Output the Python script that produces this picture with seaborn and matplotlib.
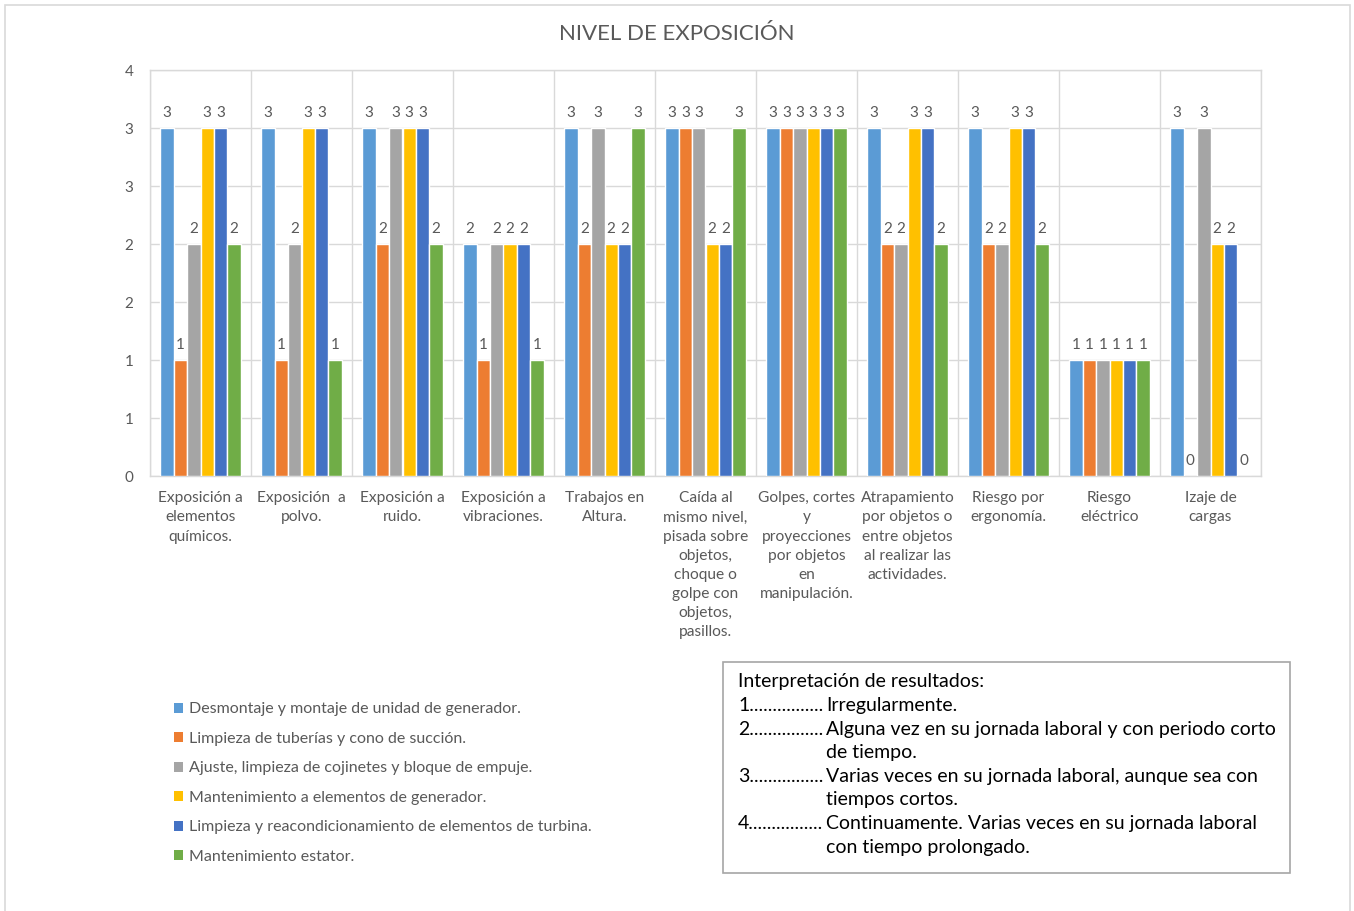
import math
import numpy as np
import pandas as pd
import matplotlib
matplotlib.use("Agg")
import matplotlib.pyplot as plt
import seaborn as sns
from matplotlib.patches import Rectangle, Patch

# ---- data -------------------------------------------------------------
categories = [
    "Exposición a\nelementos\nquímicos.",
    "Exposición  a\npolvo.",
    "Exposición a\nruido.",
    "Exposición a\nvibraciones.",
    "Trabajos en\nAltura.",
    "Caída al\nmismo nivel,\npisada sobre\nobjetos,\nchoque o\ngolpe con\nobjetos,\npasillos.",
    "Golpes, cortes\ny\nproyecciones\npor objetos\nen\nmanipulación.",
    "Atrapamiento\npor objetos o\nentre objetos\nal realizar las\nactividades.",
    "Riesgo por\nergonomía.",
    "Riesgo\neléctrico",
    "Izaje de\ncargas",
]

series_names = [
    "Desmontaje y montaje de unidad de generador.",
    "Limpieza de tuberías y cono de succión.",
    "Ajuste, limpieza de cojinetes y bloque de empuje.",
    "Mantenimiento a elementos de generador.",
    "Limpieza y reacondicionamiento de elementos de turbina.",
    "Mantenimiento estator.",
]

desmontaje_generador = [3, 3, 3, 2, 3, 3, 3, 3, 3, 1, 3]
limpieza_tuberias = [1, 1, 2, 1, 2, 3, 3, 2, 2, 1, 0]
ajuste_cojinetes = [2, 2, 3, 2, 3, 3, 3, 2, 2, 1, 3]
mantenimiento_generador = [3, 3, 3, 2, 2, 2, 3, 3, 3, 1, 2]
limpieza_turbina = [3, 3, 3, 2, 2, 2, 3, 3, 3, 1, 2]
mantenimiento_estator = [2, 1, 2, 1, 3, 3, 3, 2, 2, 1, 0]

series_values = [
    desmontaje_generador,
    limpieza_tuberias,
    ajuste_cojinetes,
    mantenimiento_generador,
    limpieza_turbina,
    mantenimiento_estator,
]

y_ticks = [0, 0.5, 1, 1.5, 2, 2.5, 3, 3.5]

interpretacion_titulo = "Interpretación de resultados:"
interpretacion = [
    ("1", ["Irregularmente."]),
    ("2", ["Alguna vez en su jornada laboral y con periodo corto", "de tiempo."]),
    ("3", ["Varias veces en su jornada laboral, aunque sea con", "tiempos cortos."]),
    ("4", ["Continuamente. Varias veces en su jornada laboral", "con tiempo prolongado."]),
]

palette = ["#5B9BD5", "#ED7D31", "#A5A5A5", "#FFC000", "#4472C4", "#70AD47"]

# ---- long table for seaborn ------------------------------------------
rows = []
for name, vals in zip(series_names, series_values):
    for cat, v in zip(categories, vals):
        rows.append({"categoria": cat, "serie": name, "valor": v})
df = pd.DataFrame(rows)

# ---- style -------------------------------------------------------------
sns.set_theme(style="white")
plt.rcParams["font.family"] = ["Lato", "DejaVu Sans"]
TXT = "#595959"
GRID = "#D9D9D9"

W, H = 1354, 911
fig = plt.figure(figsize=(W / 100, H / 100), dpi=100)


def fx(px):
    return px / W


def fy(py):
    return 1 - py / H


# outer chart border
fig.patches.append(Rectangle((fx(5), fy(915)), fx(1350) - fx(5), fy(5) - fy(915),
                             transform=fig.transFigure, fill=False,
                             edgecolor=GRID, linewidth=1.2))

ax = fig.add_axes([fx(150), fy(476), fx(1261) - fx(150), fy(70) - fy(476)])

sns.barplot(data=df, x="categoria", y="valor", hue="serie",
            order=categories, hue_order=series_names, palette=palette,
            saturation=1, width=0.8, gap=0, errorbar=None, legend=False,
            ax=ax, zorder=3)

for cont in ax.containers:
    ax.bar_label(cont, fmt="%d", padding=6, color=TXT, fontsize=11)

ax.set_xlim(-0.5, len(categories) - 0.5)
ax.set_ylim(0, 3.5)
ax.set_yticks(y_ticks)
ax.set_yticklabels([str(int(math.floor(v + 0.5))) for v in y_ticks])
ax.set_xticks(range(len(categories)))
ax.set_xticklabels(categories, linespacing=1.47)
ax.set_xticks(np.arange(-0.5, len(categories), 1), minor=True)

ax.tick_params(axis="x", which="major", length=0, pad=11, labelsize=11.2, labelcolor=TXT)
ax.tick_params(axis="x", which="minor", length=5, color=GRID, width=1)
ax.tick_params(axis="y", which="major", length=5, color=GRID, width=1,
               pad=7, labelsize=11, labelcolor=TXT)
for lbl in ax.get_xticklabels():
    lbl.set_verticalalignment("top")

ax.grid(axis="y", which="major", color=GRID, linewidth=1, zorder=0)
ax.grid(axis="x", which="minor", color=GRID, linewidth=1, zorder=0)
ax.grid(axis="x", which="major", visible=False)
for sp in ax.spines.values():
    sp.set_color(GRID)
    sp.set_linewidth(1)
ax.set_xlabel("")
ax.set_ylabel("")
ax.set_axisbelow(True)

# title
fig.text(fx(677), fy(34), "NIVEL DE EXPOSICIÓN", ha="center", va="center",
         fontsize=16, color=TXT)

# legend
handles = [Patch(facecolor=c, edgecolor="none") for c in palette]
fig.legend(handles, series_names, loc="upper left",
           bbox_to_anchor=(fx(168), fy(696)), frameon=False,
           fontsize=11.5, labelcolor=TXT, handlelength=0.55, handleheight=0.55,
           handletextpad=0.35, labelspacing=0.97, borderaxespad=0)

# interpretation box
fig.patches.append(Rectangle((fx(723), fy(873)), fx(1290) - fx(723), fy(662) - fy(873),
                             transform=fig.transFigure, fill=False,
                             edgecolor="#A6A6A6", linewidth=1.2))
BOX_FS = 14
line_h = 23.6
y0 = 682
text_x = 826
fig.text(fx(738), fy(y0), interpretacion_titulo, ha="left", va="center",
         fontsize=BOX_FS, color="black")

renderer = fig.canvas.get_renderer()
row = 1
for num, lines in interpretacion:
    lead = fig.text(fx(738), fy(y0 + row * line_h), num, ha="left",
                    va="center", fontsize=BOX_FS, color="black")
    # fill with leader dots up to the description column
    dots = ""
    while True:
        lead.set_text(num + dots + ".")
        if 738 + lead.get_window_extent(renderer).width > text_x:
            lead.set_text(num + dots)
            break
        dots += "."
    for ln in lines:
        fig.text(fx(text_x), fy(y0 + row * line_h), ln, ha="left", va="center",
                 fontsize=BOX_FS, color="black")
        row += 1

fig.savefig("out.png", dpi=100)
